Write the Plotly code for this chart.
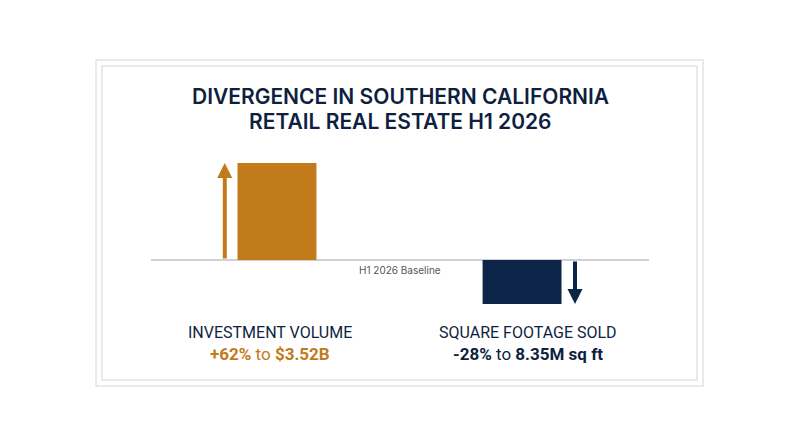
import plotly.graph_objects as go

# DATA
metrics = ["INVESTMENT VOLUME", "SQUARE FOOTAGE SOLD"]
pct_change = [62, -28]
new_values = ["$3.52B", "8.35M sq ft"]
bar_colors = ["#C27B1A", "#0B2447"]
title_lines = ["DIVERGENCE IN SOUTHERN CALIFORNIA", "RETAIL REAL ESTATE H1 2026"]
baseline_label = "H1 2026 Baseline"

NAVY = "#0E1F3F"

# the page body has an 8px margin, so the figure is drawn 8px smaller
OFF = 8
W, H = 800 - OFF, 447 - OFF

# plot area in window pixels: x 151..649, y 150..315
L, R, T, B = 151, 649, 150, 315


def px(x):
    return (x - L) / (R - L)


def py(y):
    return (B - y) / (B - T)


xs = list(range(len(metrics)))

fig = go.Figure(go.Bar(
    x=xs, y=pct_change, width=0.322,
    marker=dict(color=bar_colors, line=dict(width=0)),
    hoverinfo="skip",
))

# arrows beside the bars, pointing in the direction of change
for i, v in enumerate(pct_change):
    off = -0.213 if v > 0 else 0.216
    fig.add_annotation(
        x=xs[i] + off, y=v, ax=xs[i] + off, ay=0,
        xref="x", yref="y", axref="x", ayref="y",
        text="", showarrow=True, arrowhead=2, arrowsize=0.75,
        arrowwidth=4, arrowcolor=bar_colors[i], standoff=0,
    )

# labels under the bars
label_x = [px(270), px(528)]
for i, name in enumerate(metrics):
    fig.add_annotation(
        x=label_x[i], y=py(332), xref="paper", yref="paper",
        text=name, showarrow=False, xanchor="center", yanchor="middle",
        font=dict(family="Roboto", size=16, color=NAVY),
    )
    sign = "+" if pct_change[i] > 0 else "-"
    col = bar_colors[i] if pct_change[i] > 0 else NAVY
    fig.add_annotation(
        x=label_x[i], y=py(354), xref="paper", yref="paper",
        text=f"<b>{sign}{abs(pct_change[i])}%</b> to <b>{new_values[i]}</b>",
        showarrow=False, xanchor="center", yanchor="middle",
        font=dict(family="Roboto", size=17, color=col),
    )

# title
for j, line in enumerate(title_lines):
    fig.add_annotation(
        x=0.5, y=py(97 + 24 * j), xref="paper", yref="paper",
        text=line, showarrow=False, xanchor="center", yanchor="middle",
        font=dict(family="Inter", size=21, color=NAVY, weight=600),
    )

fig.add_annotation(
    x=0.5, y=py(270), xref="paper", yref="paper",
    text=baseline_label, showarrow=False, xanchor="center", yanchor="middle",
    font=dict(family="Inter", size=10, color="#555555"),
)

# double frame
for x0, y0, x1, y1 in [(96, 60, 703, 386), (102, 66, 697, 380)]:
    fig.add_shape(
        type="rect", xref="paper", yref="paper",
        x0=px(x0), x1=px(x1), y0=py(y1), y1=py(y0),
        line=dict(color="#E4E4E4", width=1.5), layer="below",
    )

fig.update_xaxes(range=[-0.514, 1.518], visible=False, fixedrange=True)
fig.update_yaxes(range=[-35.1, 70.3], showgrid=False, showticklabels=False,
                 zeroline=True, zerolinecolor="#D0D0D0", zerolinewidth=1.5,
                 fixedrange=True)
fig.update_layout(
    width=W, height=H,
    margin=dict(l=L - OFF, r=800 - R, t=T - OFF, b=447 - B),
    plot_bgcolor="white", paper_bgcolor="white",
    showlegend=False,
)

fig.write_html("out.html")
